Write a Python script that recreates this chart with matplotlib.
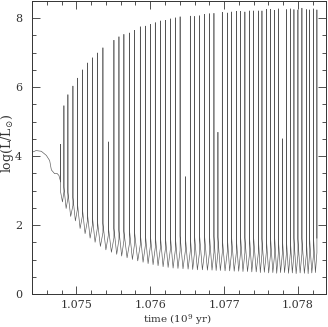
import numpy as np
import matplotlib
matplotlib.use("Agg")
import matplotlib.pyplot as plt
from matplotlib.ticker import MultipleLocator

plt.rcParams['font.family'] = ['DejaVu Serif']
plt.rcParams['mathtext.fontset'] = 'dejavuserif'

# quiet phase before the flashes start (time, log L)
pre_t = [1.07440, 1.074455, 1.074526, 1.074594, 1.074639, 1.074662, 1.074706, 1.074737, 1.074764]
pre_L = [4.11, 4.16, 4.14, 4.02, 3.87, 3.60, 3.49, 3.50, 3.44]

# flash times (10^9 yr) and peak log L
spike_t = [1.074788, 1.074832, 1.074886, 1.074954, 1.075014, 1.075081, 1.075149, 1.075217,
           1.075284, 1.075360, 1.075433, 1.075509, 1.075577, 1.075644, 1.075722, 1.075789,
           1.075866, 1.075934, 1.076002, 1.076069, 1.076137, 1.076205, 1.076273, 1.076340,
           1.076405, 1.076476, 1.076543, 1.076602, 1.076669, 1.076737, 1.076805, 1.076863,
           1.076917, 1.076976, 1.077044, 1.077102, 1.077166, 1.077224, 1.077282, 1.077346,
           1.077400, 1.077464, 1.077513, 1.077572, 1.077630, 1.077685, 1.077735, 1.077789,
           1.077843, 1.077897, 1.077946, 1.078000, 1.078054, 1.078114, 1.078158, 1.078212,
           1.078257]
spike_peak = [4.34, 5.46, 5.78, 6.03, 6.26, 6.50, 6.70, 6.85, 6.99, 7.14, 4.41, 7.36, 7.46,
              7.53, 7.57, 7.65, 7.75, 7.77, 7.82, 7.87, 7.92, 7.94, 7.98, 8.01, 8.04, 3.40,
              8.06, 8.05, 8.07, 8.11, 8.13, 8.14, 4.69, 8.17, 8.15, 8.18, 8.20, 8.20, 8.18,
              8.21, 8.21, 8.21, 8.21, 8.26, 8.26, 8.23, 8.27, 4.50, 8.25, 8.27, 8.25, 8.24,
              8.29, 8.25, 8.24, 8.27, 8.24]

# log L at the foot of each flash, and just after it
spike_base = [3.25, 2.97, 2.78, 2.57, 2.45, 2.25, 2.11, 2.00, 1.90, 1.78, 1.70, 1.63, 1.59,
              1.55, 1.50, 1.46, 1.43, 1.40, 1.38, 1.35, 1.32, 1.29, 1.29, 1.27, 1.26, 1.25,
              1.25, 1.24, 1.23, 1.22, 1.24, 1.21, 1.22, 1.20, 1.23, 1.21, 1.19, 1.22, 1.20,
              1.18, 1.21, 1.19, 1.17, 1.20, 1.18, 1.16, 1.19, 1.17, 1.15, 1.18, 1.16, 1.14,
              1.17, 1.15, 1.18, 1.16, 1.20]
spike_post = [2.95, 3.10, 2.95, 2.80, 2.65, 2.50, 2.35, 2.25, 2.15, 2.05, 1.95, 1.90, 1.85,
              1.82, 1.80, 1.78, 1.76, 1.74, 1.72, 1.70, 1.70, 1.68, 1.69, 1.67, 1.68, 1.66,
              1.67, 1.65, 1.68, 1.66, 1.64, 1.67, 1.65, 1.63, 1.66, 1.64, 1.62, 1.65, 1.63,
              1.61, 1.64, 1.62, 1.60, 1.63, 1.61, 1.62, 1.60, 1.63, 1.61, 1.59, 1.62, 1.60,
              1.61, 1.59, 1.62, 1.60, 1.62]

# minimum log L between consecutive flashes
trough_L = [2.67, 2.48, 2.25, 2.12, 1.90, 1.75, 1.62, 1.50, 1.38, 1.28, 1.21, 1.15, 1.10,
            1.05, 1.00, 0.96, 0.92, 0.88, 0.85, 0.82, 0.79, 0.77, 0.75, 0.74, 0.73, 0.72,
            0.71, 0.70, 0.70, 0.69, 0.69, 0.68, 0.68, 0.67, 0.67, 0.66, 0.66, 0.65, 0.65,
            0.64, 0.64, 0.62, 0.63, 0.61, 0.62, 0.60, 0.62, 0.62, 0.60, 0.61, 0.59, 0.61,
            0.60, 0.59, 0.61, 0.62]

# stitch the light curve together
t = list(pre_t)
L = list(pre_L)
for i in range(len(spike_t)):
    t += [spike_t[i], spike_t[i], spike_t[i]]
    L += [spike_base[i], spike_peak[i], spike_post[i]]
    if i < len(trough_L):
        t.append(spike_t[i] + 0.55 * (spike_t[i + 1] - spike_t[i]))
        L.append(trough_L[i])

fig = plt.figure(figsize=(3.28, 3.27), dpi=100)
ax = fig.add_axes([0.0976, 0.101, 0.8963, 0.896])
ax.plot(t, L, color='#555555', lw=0.45)

ax.set_xlim(1.07440, 1.07838)
ax.set_ylim(0, 8.5)
ax.xaxis.set_major_locator(MultipleLocator(0.001))
ax.xaxis.set_minor_locator(MultipleLocator(0.0002))
ax.yaxis.set_major_locator(MultipleLocator(2))
ax.yaxis.set_minor_locator(MultipleLocator(0.5))
ax.xaxis.set_major_formatter(plt.FormatStrFormatter('%.3f'))
ax.yaxis.set_major_formatter(plt.FormatStrFormatter('%d'))
ax.tick_params(which='both', direction='in', top=True, right=True, width=0.6,
               labelsize=8, colors='#333333')
ax.tick_params(which='major', length=6)
ax.tick_params(which='minor', length=3)
ax.tick_params(axis='x', which='major', pad=4)
ax.tick_params(axis='y', which='major', pad=7)
for s in ax.spines.values():
    s.set_linewidth(0.7)
    s.set_color('#333333')

ax.set_xlabel(r'time (10$^9$ yr)', fontsize=7.5, color='#333333')
ax.set_ylabel(r'log(L/L$_{\odot}$)', fontsize=9, color='#333333')
ax.xaxis.set_label_coords(0.493, -0.087)
ax.yaxis.set_label_coords(-0.083, 0.514)
ax.xaxis.label.set_verticalalignment('center')
ax.yaxis.label.set_verticalalignment('center')

fig.savefig('out.png', dpi=100)
